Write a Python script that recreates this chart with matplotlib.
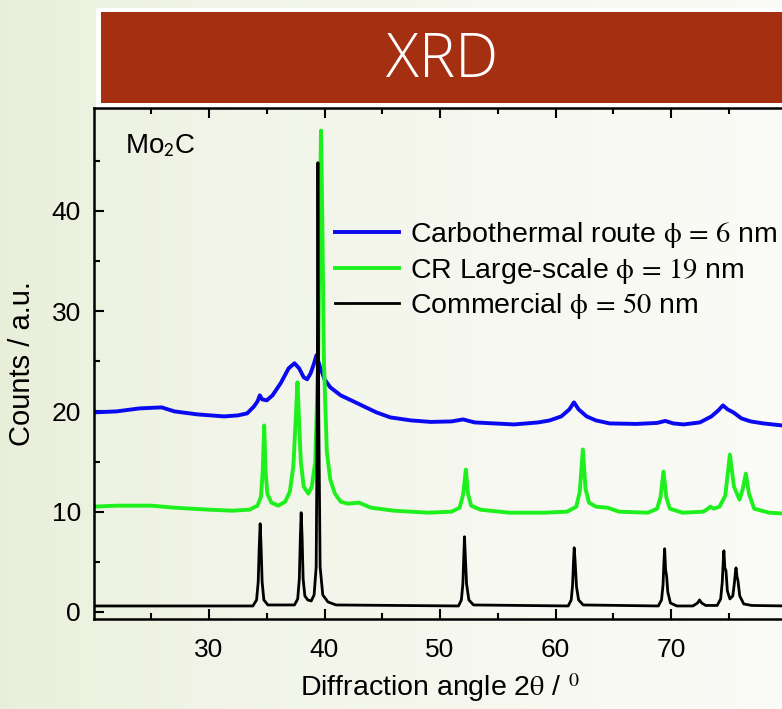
import numpy as np
import matplotlib
matplotlib.use('Agg')
import matplotlib.pyplot as plt
from matplotlib.patches import Rectangle

plt.rcParams['font.family'] = ['Liberation Sans', 'DejaVu Sans']
plt.rcParams['mathtext.fontset'] = 'stix'

# 2theta (deg) / counts (a.u.)
blue_x = [20, 22, 24, 25.9, 27, 29, 31.3, 32.5, 33.3, 33.9, 34.2, 34.4, 34.6, 35.0, 35.5, 36.2,
          36.9, 37.4, 37.8, 38.2, 38.5, 38.8, 39.1, 39.3, 39.6, 40.0, 40.5, 41.4, 42.5, 43.4, 44.5,
          45.7, 47.5, 49.2, 51, 52.0, 53, 56.4, 58.5, 59.5, 60.5, 61.2, 61.6, 62.0, 62.7, 63.5,
          64.7, 67, 68.8, 69.5, 70.2, 71.1, 72.5, 73.5, 74.1, 74.5, 74.9, 75.4, 76.1, 76.9, 78,
          79.6, 80]
blue_y = [19.9, 20.0, 20.3, 20.4, 20.0, 19.7, 19.5, 19.6, 19.8, 20.5, 21.0, 21.6, 21.2, 21.1,
          21.6, 22.8, 24.3, 24.8, 24.3, 23.4, 23.2, 23.8, 24.8, 25.6, 24.5, 23.2, 22.4, 21.6,
          21.0, 20.5, 19.9, 19.4, 19.1, 18.95, 19.0, 19.2, 18.9, 18.7, 18.9, 19.1, 19.5, 20.2,
          20.9, 20.2, 19.5, 19.1, 18.8, 18.75, 18.85, 19.05, 18.8, 18.7, 18.9, 19.5, 20.1, 20.6,
          20.2, 19.9, 19.3, 19.0, 18.8, 18.6, 18.6]

green_x = [20, 22, 25, 27, 30, 32, 33.5, 34.2, 34.5, 34.65, 34.78, 34.9, 35.05, 35.4, 36.0,
           36.6, 37.0, 37.3, 37.5, 37.66, 37.8, 37.95, 38.2, 38.6, 38.9, 39.2, 39.45, 39.6,
           39.7, 39.8, 39.95, 40.2, 40.5, 40.9, 41.4, 42, 43, 43.2, 44, 46, 49, 51, 51.7, 52.0,
           52.24, 52.42, 52.7, 53.5, 56, 59, 61, 61.8, 62.1, 62.37, 62.6, 62.9, 63.5, 64.5,
           65.5, 68, 68.8, 69.1, 69.35, 69.6, 69.9, 71, 72.8, 73.2, 73.4, 73.7, 74.2, 74.7,
           75.1, 75.45, 75.93, 76.2, 76.48, 76.75, 77.2, 78.5, 80]
green_y = [10.5, 10.6, 10.6, 10.4, 10.2, 10.1, 10.2, 10.6, 11.5, 14, 18.6, 14, 11.8, 10.9, 10.6,
           11.0, 12.0, 14.5, 19, 22.9, 19, 15, 12.5, 11.8, 12.5, 15, 25, 40, 48.0, 40, 25, 16,
           13.2, 11.8, 11.0, 10.8, 10.9, 10.8, 10.4, 10.1, 9.9, 10.0, 10.4, 11.7, 14.2, 11.8,
           10.6, 10.2, 9.9, 9.9, 10.0, 10.5, 12, 16.2, 12.3, 10.9, 10.5, 10.4, 10.0, 9.9, 10.3,
           11.5, 14.0, 11.4, 10.3, 9.9, 10.0, 10.3, 10.5, 10.3, 10.5, 11.6, 15.7, 12.5, 11.2,
           12.2, 13.8, 11.8, 10.3, 9.9, 9.8]

black_x = [20, 33.8, 34.12, 34.26, 34.35, 34.43, 34.51, 34.6, 34.75, 35.1, 37.4, 37.68, 37.82,
           37.91, 37.98, 38.06, 38.15, 38.3, 38.55, 38.85, 39.1, 39.28, 39.37, 39.43, 39.5,
           39.62, 39.85, 40.3, 41, 51.6, 51.85, 51.98, 52.06, 52.12, 52.19, 52.3, 52.5, 52.9,
           61.1, 61.36, 61.48, 61.56, 61.62, 61.7, 61.82, 62.0, 62.4, 68.9, 69.18, 69.31, 69.39,
           69.45, 69.53, 69.62, 69.72, 69.95, 70.5, 71.9, 72.3, 72.47, 72.65, 73.0, 74.0, 74.3,
           74.44, 74.53, 74.58, 74.66, 74.76, 74.88, 75.1, 75.35, 75.48, 75.58, 75.63, 75.72,
           75.8, 75.95, 76.3, 77, 80]
black_y = [0.6, 0.6, 1.2, 3.0, 6.5, 8.8, 6.5, 3.0, 1.2, 0.7, 0.7, 1.3, 3.3, 7.5, 9.9, 7.5, 3.3,
           1.6, 1.2, 1.1, 1.7, 4.5, 20, 44.8, 20, 4.5, 1.7, 1.0, 0.7, 0.6, 1.2, 2.8, 5.6, 7.5,
           5.6, 2.8, 1.2, 0.7, 0.6, 1.2, 2.7, 5.0, 6.4, 5.0, 2.5, 1.2, 0.7, 0.6, 1.2, 2.7, 5.0,
           6.3, 4.2, 3.6, 2.0, 0.9, 0.6, 0.6, 0.9, 1.2, 0.9, 0.65, 0.65, 1.3, 3.0, 5.2, 6.1,
           4.4, 4.1, 2.1, 1.3, 1.6, 2.8, 4.0, 4.4, 3.5, 3.1, 1.6, 0.8, 0.65, 0.6]

labels = ['Carbothermal route $\\mathrm{\\phi\\,=\\,6}$ nm',
          'CR Large-scale $\\mathrm{\\phi\\,=\\,19}$ nm',
          'Commercial $\\mathrm{\\phi\\,=\\,50}$ nm']
colors = ['#0a0af0', '#1ef01e', 'black']

W, H = 782, 709
fig = plt.figure(figsize=(W/100, H/100), dpi=100)

# slide background: pale green on the left fading to white
bg = fig.add_axes([0, 0, 1, 1], zorder=-10)
c0 = np.array([232, 238, 216]) / 255
c1 = np.array([251, 251, 247]) / 255
t = np.linspace(0, 1, 256)[None, :, None]
bg.imshow(c0 + (c1 - c0) * t**0.6, aspect='auto', extent=[0, 1, 0, 1])
bg.axis('off')

# title banner
fig.add_artist(Rectangle((96/W, 1-107/H), 1, 99/H, transform=fig.transFigure,
                         facecolor='white', edgecolor='none'))
fig.add_artist(Rectangle((101/W, 1-103/H), 1, 91/H, transform=fig.transFigure,
                         facecolor='#a53011', edgecolor='none'))
fig.text(442/W, 1-61/H, 'XRD', color='white', fontsize=44, family=['Open Sans', 'DejaVu Sans'],
         fontweight=300, ha='center', va='center')

ax = fig.add_axes([93.5/W, 1-619/H, 693/W, 511/H])
ax.set_facecolor('none')
ax.plot(blue_x, blue_y, color=colors[0], lw=2.8, label=labels[0])
ax.plot(green_x, green_y, color=colors[1], lw=2.8, label=labels[1])
ax.plot(black_x, black_y, color=colors[2], lw=2.0, label=labels[2])

ax.set_xlim(20, 80)
ax.set_ylim(-0.7, 50.25)
ax.set_xticks([30, 40, 50, 60, 70])
ax.set_xticks([25, 35, 45, 55, 65, 75], minor=True)
ax.set_yticks([0, 10, 20, 30, 40])
ax.set_yticks([5, 15, 25, 35, 45], minor=True)
ax.tick_params(which='both', direction='in', top=True, right=False, width=1.5, labelsize=19)
ax.tick_params(which='major', length=7)
ax.tick_params(axis='x', which='major', pad=14)
ax.tick_params(axis='y', which='major', pad=9)
ax.tick_params(which='minor', length=4)
for s in ax.spines.values():
    s.set_linewidth(1.8)

ax.set_xlabel('Diffraction angle 2$\\mathrm{\\theta}$ / $^{\\mathrm{0}}$', fontsize=20.5, labelpad=6)
ax.set_ylabel('Counts / a.u.', fontsize=21, labelpad=11)
ax.text(0.046, 0.925, 'Mo$_\\mathsf{2}$C', transform=ax.transAxes, fontsize=20, va='center')

ax.legend(loc='upper left', bbox_to_anchor=(0.348, 0.781), frameon=False, fontsize=20.5,
          handlelength=2.25, handletextpad=0.4, labelspacing=0.2, borderpad=0, borderaxespad=0)

fig.savefig('out.png', dpi=100)
